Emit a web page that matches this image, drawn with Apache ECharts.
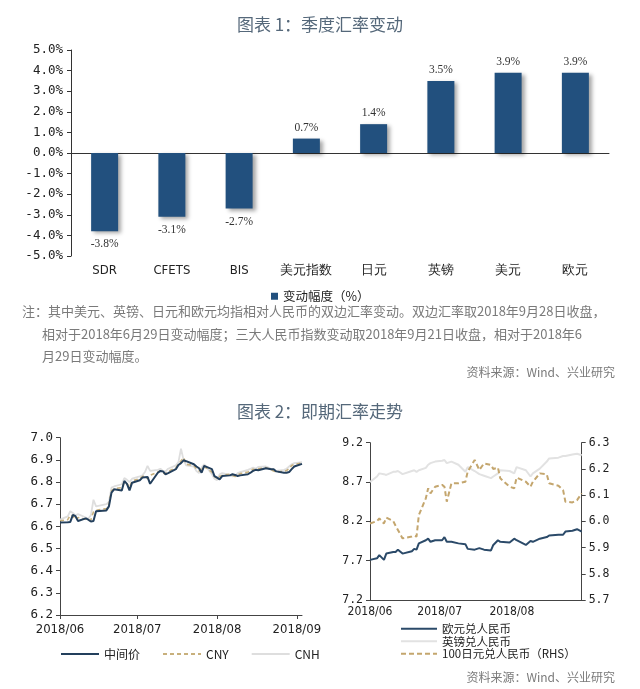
<!DOCTYPE html>
<html><head><meta charset="utf-8">
<script src="https://cdn.jsdelivr.net/npm/echarts@6/dist/echarts.min.js"></script>
<style>html,body{margin:0;padding:0;background:#fff}#c{width:640px;height:689px}</style>
</head><body><div id="c"></div>
<script>
// ---------- Chart 1: quarterly change ----------
const barCategories = ['SDR','CFETS','BIS','美元指数','日元','英镑','美元','欧元'];
const barValues = [-3.8,-3.1,-2.7,0.7,1.4,3.5,3.9,3.9];

// ---------- Chart 2 left: USD/CNY ----------
const leftDates = ['2018-06-01','2018-06-04','2018-06-05','2018-06-06','2018-06-07','2018-06-08','2018-06-11','2018-06-12','2018-06-13','2018-06-14',
'2018-06-15','2018-06-19','2018-06-20','2018-06-21','2018-06-22','2018-06-25','2018-06-26','2018-06-27','2018-06-28','2018-06-29',
'2018-07-02','2018-07-03','2018-07-04','2018-07-05','2018-07-06','2018-07-09','2018-07-10','2018-07-11','2018-07-12','2018-07-13',
'2018-07-16','2018-07-17','2018-07-18','2018-07-19','2018-07-20','2018-07-23','2018-07-24','2018-07-25','2018-07-26','2018-07-27',
'2018-07-30','2018-07-31','2018-08-01','2018-08-02','2018-08-03','2018-08-06','2018-08-07','2018-08-08','2018-08-09','2018-08-10',
'2018-08-13','2018-08-14','2018-08-15','2018-08-16','2018-08-17','2018-08-20','2018-08-21','2018-08-22','2018-08-23','2018-08-24',
'2018-08-27','2018-08-28','2018-08-29','2018-08-30','2018-08-31','2018-09-03'];
const midRate = [6.617,6.619,6.620,6.652,6.646,6.624,6.636,6.630,6.622,6.624,
6.668,6.672,6.690,6.752,6.767,6.762,6.805,6.792,6.762,6.797,
6.808,6.820,6.822,6.823,6.792,6.842,6.850,6.848,6.835,6.840,
6.858,6.877,6.885,6.898,6.894,6.880,6.870,6.862,6.842,6.873,
6.858,6.827,6.820,6.812,6.827,6.830,6.835,6.832,6.827,6.830,
6.835,6.842,6.850,6.855,6.853,6.862,6.860,6.858,6.858,6.848,
6.842,6.842,6.845,6.858,6.870,6.882];
const cnyRate = [6.625,6.630,6.650,6.648,6.630,6.640,6.632,6.625,6.630,6.665,
6.672,6.680,6.700,6.760,6.770,6.775,6.800,6.795,6.775,6.805,
6.815,6.825,6.828,6.815,6.830,6.845,6.850,6.840,6.838,6.848,
6.865,6.880,6.895,6.910,6.880,6.875,6.860,6.850,6.860,6.870,
6.845,6.825,6.815,6.825,6.830,6.835,6.830,6.825,6.832,6.838,
6.845,6.852,6.858,6.855,6.860,6.865,6.860,6.855,6.850,6.845,
6.848,6.852,6.860,6.875,6.880,6.885];
const cnhRate = [6.630,6.645,6.668,6.660,6.650,6.655,6.640,6.635,6.650,6.720,
6.690,6.700,6.710,6.775,6.780,6.790,6.818,6.810,6.800,6.815,
6.825,6.830,6.845,6.873,6.850,6.855,6.860,6.850,6.848,6.860,
6.875,6.890,6.950,6.900,6.875,6.870,6.850,6.840,6.865,6.880,
6.835,6.815,6.808,6.835,6.840,6.832,6.825,6.830,6.840,6.845,
6.855,6.860,6.865,6.860,6.868,6.870,6.865,6.860,6.855,6.850,
6.855,6.860,6.870,6.880,6.885,6.890];
const leftMonthTicks = ['2018-06-01','2018-07-01','2018-08-01','2018-09-01'];
const leftYMin = 6.2, leftYMax = 7.0, leftYStep = 0.1;

// ---------- Chart 2 right: EUR, GBP, JPY ----------
const rightDates = ['2018-06-01','2018-06-04','2018-06-05','2018-06-07','2018-06-08','2018-06-11','2018-06-12','2018-06-13','2018-06-15','2018-06-19',
'2018-06-20','2018-06-21','2018-06-22','2018-06-25','2018-06-26','2018-06-27','2018-06-29',
'2018-07-02','2018-07-03','2018-07-04','2018-07-06','2018-07-09','2018-07-12','2018-07-13','2018-07-16','2018-07-18','2018-07-20',
'2018-07-23','2018-07-24','2018-07-26','2018-07-27','2018-07-31',
'2018-08-02','2018-08-03','2018-08-07','2018-08-09','2018-08-10','2018-08-13','2018-08-16','2018-08-17','2018-08-21','2018-08-23',
'2018-08-24','2018-08-27','2018-08-29','2018-08-31'];
const eurCny = [7.71,7.73,7.77,7.71,7.79,7.81,7.81,7.84,7.79,7.82,7.85,7.84,7.92,7.96,7.98,7.94,7.96,
7.96,8.00,7.94,7.94,7.92,7.91,7.85,7.84,7.86,7.84,7.83,7.90,7.96,7.94,7.93,
7.98,7.96,7.90,7.95,7.94,7.98,8.00,8.02,8.03,8.03,8.07,8.08,8.10,8.07];
const gbpCny = [8.70,8.77,8.81,8.80,8.79,8.83,8.83,8.84,8.80,8.84,8.85,8.83,8.85,8.88,8.92,8.94,8.96,
8.97,8.98,8.94,8.96,8.92,8.83,8.89,8.84,8.80,8.78,8.75,8.77,8.81,8.85,8.84,
8.81,8.89,8.85,8.77,8.81,8.87,8.96,9.00,9.01,9.03,9.03,9.05,9.06,9.04];
const jpyCny = [5.992,6.001,6.011,5.992,6.014,6.001,5.983,5.967,5.935,5.942,5.945,5.942,6.024,6.088,6.126,6.107,6.132,
6.139,6.132,6.075,6.145,6.145,6.151,6.190,6.234,6.196,6.221,6.215,6.200,6.205,6.164,6.132,
6.126,6.167,6.151,6.132,6.151,6.183,6.179,6.145,6.136,6.119,6.075,6.072,6.081,6.107];
const rightMonthTicks = ['2018-06-01','2018-07-01','2018-08-01'];
const rightLeftTicks = [7.2,7.7,8.2,8.7,9.2];
const rightRightMin = 5.7, rightRightMax = 6.3, rightRightStep = 0.1;

// ---------- texts ----------
const title1 = '图表 1：季度汇率变动';
const title2 = '图表 2：即期汇率走势';
const noteLines = [
  '注：其中美元、英镑、日元和欧元均指相对人民币的双边汇率变动。双边汇率取2018年9月28日收盘，',
  '相对于2018年6月29日变动幅度；三大人民币指数变动取2018年9月21日收盘，相对于2018年6',
  '月29日变动幅度。'
];
const sourceText = '资料来源：Wind、兴业研究';

// ---------- build ----------
const cjk = "'Noto Sans CJK SC', sans-serif";
const mono = "'DejaVu Sans Mono', monospace";
const narrow = "'Liberation Sans Narrow','DejaVu Sans Condensed','Liberation Sans',sans-serif";
const serif = "'Liberation Serif','Times New Roman',serif";
const toTs = s => { const p = s.split('-').map(Number); return new Date(p[0], p[1]-1, p[2]).getTime(); };
const ymFmt = v => { const d = new Date(v); return d.getFullYear() + '/' + String(d.getMonth()+1).padStart(2,'0'); };
const axisCol = '#444';

const chart = echarts.init(document.getElementById('c'));
chart.setOption({
  backgroundColor: '#fff',
  animation: false,
  title: [
    {text: title1, left: 'center', top: 11, textStyle: {fontFamily: cjk, fontSize: 17, fontWeight: 'normal', color: '#55687a'}},
    {text: title2, left: 'center', top: 398, textStyle: {fontFamily: cjk, fontSize: 17, fontWeight: 'normal', color: '#55687a'}}
  ],
  legend: [
    {data: ['变动幅度（%）'], left: 266, top: 285, icon: 'rect', itemWidth: 7, itemHeight: 7, itemGap: 4,
     textStyle: {fontFamily: cjk, fontSize: 12.5, color: '#222'}},
    {data: ['中间价','CNY','CNH'], left: 55, top: 643, itemWidth: 38, itemHeight: 12, itemGap: 22,
     itemStyle: {opacity: 0},
     textStyle: {fontFamily: cjk, fontSize: 12, color: '#222'}},
    {data: ['欧元兑人民币','英镑兑人民币','100日元兑人民币（RHS）'], left: 395, top: 618, orient: 'vertical',
     itemWidth: 36, itemHeight: 12, itemGap: 1, itemStyle: {opacity: 0},
     textStyle: {fontFamily: cjk, fontSize: 11.5, color: '#222'}}
  ],
  grid: [
    {left: 71, top: 50, width: 538, height: 206},
    {left: 60, top: 437.7, width: 242, height: 177.3},
    {left: 370, top: 442.7, width: 211.7, height: 157.3}
  ],
  xAxis: [
    {gridIndex: 0, type: 'category', data: barCategories,
     axisLine: {onZero: true, lineStyle: {color: '#333'}},
     axisTick: {length: 4, lineStyle: {color: '#333'}},
     axisLabel: {show: false}},
    {gridIndex: 0, type: 'category', data: barCategories, position: 'bottom',
     axisLine: {show: false, onZero: false}, axisTick: {show: false},
     axisLabel: {interval: 0, margin: 8, fontSize: 13, color: '#222', fontFamily: narrow}},
    {gridIndex: 1, type: 'value', min: toTs('2018-06-01'), max: toTs('2018-09-03'),
     axisLine: {show: true, onZero: false, lineStyle: {color: axisCol}},
     axisTick: {show: true, length: 4, customValues: leftMonthTicks.map(toTs), lineStyle: {color: axisCol}},
     axisLabel: {customValues: leftMonthTicks.map(toTs), formatter: ymFmt, fontSize: 13, color: '#222', fontFamily: narrow, margin: 8},
     splitLine: {show: false}},
    {gridIndex: 2, type: 'value', min: toTs('2018-06-01'), max: toTs('2018-08-31'),
     axisLine: {show: true, onZero: false, lineStyle: {color: axisCol}},
     axisTick: {show: false},
     axisLabel: {customValues: rightMonthTicks.map(toTs), formatter: ymFmt, fontSize: 12, color: '#222', fontFamily: narrow, margin: 6},
     splitLine: {show: false}}
  ],
  yAxis: [
    {gridIndex: 0, type: 'value', min: -5, max: 5, interval: 1,
     axisLine: {show: true, lineStyle: {color: '#333'}},
     axisTick: {show: true, length: 4, lineStyle: {color: '#333'}},
     axisLabel: {formatter: v => v.toFixed(1) + '%', fontFamily: mono, fontSize: 12.5, color: '#222', margin: 8},
     splitLine: {show: false}},
    {gridIndex: 1, type: 'value', min: leftYMin, max: leftYMax, interval: leftYStep,
     axisLine: {show: true, lineStyle: {color: axisCol}},
     axisTick: {show: true, length: 4, lineStyle: {color: axisCol}},
     axisLabel: {formatter: v => v.toFixed(1), fontFamily: mono, fontSize: 12.5, color: '#222', margin: 7},
     splitLine: {show: false}},
    {gridIndex: 2, type: 'value', min: 7.2, max: 9.2,
     axisLine: {show: true, lineStyle: {color: axisCol}},
     axisTick: {show: true, length: 4, customValues: rightLeftTicks, lineStyle: {color: axisCol}},
     axisLabel: {customValues: rightLeftTicks, formatter: v => v.toFixed(1), fontFamily: mono, fontSize: 11.5, color: '#222', margin: 7},
     splitLine: {show: false}},
    {gridIndex: 2, type: 'value', position: 'right', min: rightRightMin, max: rightRightMax, interval: rightRightStep,
     axisLine: {show: true, lineStyle: {color: axisCol}},
     axisTick: {show: true, length: 4, lineStyle: {color: axisCol}},
     axisLabel: {formatter: v => v.toFixed(1), fontFamily: mono, fontSize: 11.5, color: '#222', margin: 7},
     splitLine: {show: false}}
  ],
  series: [
    {type: 'bar', name: '变动幅度（%）', xAxisIndex: 0, yAxisIndex: 0, barWidth: 27,
     data: barValues.map(v => ({value: v, label: {position: v < 0 ? 'bottom' : 'top', distance: v < 0 ? 7 : 5}})),
     itemStyle: {color: '#22507e', shadowBlur: 4, shadowColor: 'rgba(0,0,0,0.35)', shadowOffsetX: 3, shadowOffsetY: 2},
     label: {show: true, formatter: p => p.value.toFixed(1) + '%', fontFamily: serif, fontSize: 11.5, color: '#333'}},
    {type: 'line', name: 'CNH', xAxisIndex: 2, yAxisIndex: 1, symbol: 'none', z: 1,
     data: leftDates.map((d, i) => [toTs(d), cnhRate[i]]), lineStyle: {color: '#dedede', width: 1.8}, itemStyle: {color: '#dedede'}},
    {type: 'line', name: 'CNY', xAxisIndex: 2, yAxisIndex: 1, symbol: 'none', z: 2,
     data: leftDates.map((d, i) => [toTs(d), cnyRate[i]]), lineStyle: {color: '#c8b07c', width: 1.6, type: [4, 3]}, itemStyle: {color: '#c8b07c'}},
    {type: 'line', name: '中间价', xAxisIndex: 2, yAxisIndex: 1, symbol: 'none', z: 3,
     data: leftDates.map((d, i) => [toTs(d), midRate[i]]), lineStyle: {color: '#233f5c', width: 2}, itemStyle: {color: '#233f5c'}},
    {type: 'line', name: '英镑兑人民币', xAxisIndex: 3, yAxisIndex: 2, symbol: 'none', z: 1,
     data: rightDates.map((d, i) => [toTs(d), gbpCny[i]]), lineStyle: {color: '#e2e2e2', width: 2}, itemStyle: {color: '#e2e2e2'}},
    {type: 'line', name: '100日元兑人民币（RHS）', xAxisIndex: 3, yAxisIndex: 3, symbol: 'none', z: 2,
     data: rightDates.map((d, i) => [toTs(d), jpyCny[i]]), lineStyle: {color: '#c4a66e', width: 2, type: [5, 3]}, itemStyle: {color: '#c4a66e'}},
    {type: 'line', name: '欧元兑人民币', xAxisIndex: 3, yAxisIndex: 2, symbol: 'none', z: 3,
     data: rightDates.map((d, i) => [toTs(d), eurCny[i]]), lineStyle: {color: '#2b4a69', width: 2}, itemStyle: {color: '#2b4a69'}}
  ],
  graphic: [
    {type: 'text', left: 22, top: 305, style: {text: noteLines[0], font: '13px ' + cjk, fill: '#7a7a7a'}},
    {type: 'text', left: 42, top: 328, style: {text: noteLines[1], font: '13px ' + cjk, fill: '#7a7a7a'}},
    {type: 'text', left: 42, top: 350, style: {text: noteLines[2], font: '13px ' + cjk, fill: '#7a7a7a'}},
    {type: 'text', right: 25, top: 366, style: {text: sourceText, font: '12px ' + cjk, fill: '#7a7a7a'}},
    {type: 'text', right: 25, top: 671, style: {text: sourceText, font: '12px ' + cjk, fill: '#7a7a7a'}}
  ]
});
</script>
</body></html>
